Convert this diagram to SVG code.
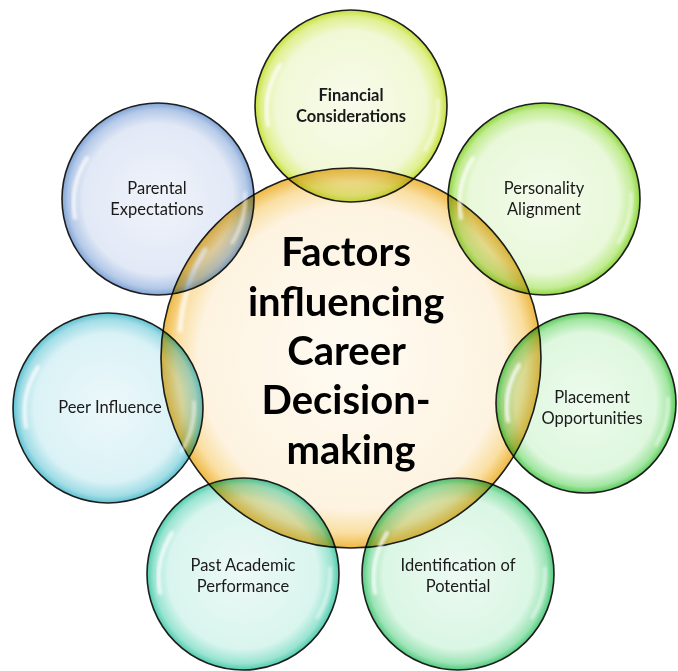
<svg xmlns="http://www.w3.org/2000/svg" width="678" height="671" viewBox="0 0 678 671">
  <defs>
    <style>
      .rim { stroke: #1e1e1e; stroke-width: 1.6; }
      .bubble { mix-blend-mode: multiply; }
      .label { font-family: Lato, "Open Sans", "Liberation Sans", sans-serif; font-size: 16.5px; fill: #1a1a1a; text-anchor: middle; }
      .label-b { font-weight: bold; }
      .title { font-family: Lato, "Open Sans", "Liberation Sans", sans-serif; font-size: 40px; font-weight: bold; fill: #000; text-anchor: middle; }
      .glint { fill: none; stroke: #ffffff; stroke-linecap: round; filter: url(#soft); }
    </style>
    <filter id="soft" x="-20%" y="-20%" width="140%" height="140%">
      <feGaussianBlur stdDeviation="1.6"/>
    </filter>
    <radialGradient id="gCore" cx="50%" cy="50%" r="50%">
      <stop offset="0" stop-color="#fffbf3"/>
      <stop offset="0.8" stop-color="#fdf3e0"/>
      <stop offset="0.92" stop-color="#fadfa2"/>
      <stop offset="1" stop-color="#eeb844"/>
    </radialGradient>
    <radialGradient id="gFin" cx="50%" cy="50%" r="50%">
      <stop offset="0" stop-color="#f8fbec"/>
      <stop offset="0.78" stop-color="#f1f8d6"/>
      <stop offset="0.93" stop-color="#e0f090"/>
      <stop offset="1" stop-color="#c6e03a"/>
    </radialGradient>
    <radialGradient id="gPer" cx="50%" cy="50%" r="50%">
      <stop offset="0" stop-color="#f4fbec"/>
      <stop offset="0.78" stop-color="#e8f8d9"/>
      <stop offset="0.93" stop-color="#c2ec92"/>
      <stop offset="1" stop-color="#8ed63e"/>
    </radialGradient>
    <radialGradient id="gPla" cx="50%" cy="50%" r="50%">
      <stop offset="0" stop-color="#eefbee"/>
      <stop offset="0.78" stop-color="#def7de"/>
      <stop offset="0.93" stop-color="#a2e6a2"/>
      <stop offset="1" stop-color="#5ace5a"/>
    </radialGradient>
    <radialGradient id="gIde" cx="50%" cy="50%" r="50%">
      <stop offset="0" stop-color="#edfaf2"/>
      <stop offset="0.78" stop-color="#daf6e4"/>
      <stop offset="0.93" stop-color="#9ce4b6"/>
      <stop offset="1" stop-color="#50ca7c"/>
    </radialGradient>
    <radialGradient id="gPas" cx="50%" cy="50%" r="50%">
      <stop offset="0" stop-color="#edf9f6"/>
      <stop offset="0.78" stop-color="#d9f5ee"/>
      <stop offset="0.93" stop-color="#9ae4d2"/>
      <stop offset="1" stop-color="#4eccac"/>
    </radialGradient>
    <radialGradient id="gPee" cx="50%" cy="50%" r="50%">
      <stop offset="0" stop-color="#edf8fa"/>
      <stop offset="0.78" stop-color="#daf2f6"/>
      <stop offset="0.93" stop-color="#a2dde6"/>
      <stop offset="1" stop-color="#5cc2d2"/>
    </radialGradient>
    <radialGradient id="gPar" cx="50%" cy="50%" r="50%">
      <stop offset="0" stop-color="#f0f3fa"/>
      <stop offset="0.78" stop-color="#e2e9f6"/>
      <stop offset="0.93" stop-color="#b4c9e8"/>
      <stop offset="1" stop-color="#80a4d6"/>
    </radialGradient>
  </defs>

  <rect width="678" height="671" fill="#ffffff"/>

  <!-- central hub -->
  <g id="core">
    <circle cx="351" cy="358" r="190" fill="url(#gCore)" class="rim"/>
    <path class="glint" stroke-width="5" opacity="0.7" d="M 180 330 A 172 172 0 0 1 205 250"/>
    <text class="title">
      <tspan x="351" y="266">Factors</tspan>
      <tspan x="351" y="316">influencing</tspan>
      <tspan x="351" y="365">Career</tspan>
      <tspan x="351" y="414">Decision-</tspan>
      <tspan x="351" y="464">making</tspan>
    </text>
  </g>

  <!-- surrounding factors -->
  <g id="financial">
    <circle class="bubble rim" cx="351" cy="106" r="96" fill="url(#gFin)"/>
    <path class="glint" stroke-width="4" opacity="0.8" d="M 268 125 A 84 84 0 0 1 280 65"/>
    <path class="glint" stroke-width="3" opacity="0.6" d="M 438 100 A 87 87 0 0 1 425 150"/>
    <text class="label label-b"><tspan x="351" y="101">Financial</tspan><tspan x="351" y="122">Considerations</tspan></text>
  </g>

  <g id="personality">
    <circle class="bubble rim" cx="544" cy="199" r="96" fill="url(#gPer)"/>
    <path class="glint" stroke-width="4" opacity="0.8" d="M 461 218 A 84 84 0 0 1 473 158"/>
    <path class="glint" stroke-width="3" opacity="0.6" d="M 631 193 A 87 87 0 0 1 618 243"/>
    <text class="label"><tspan x="544" y="194">Personality</tspan><tspan x="544" y="215">Alignment</tspan></text>
  </g>

  <g id="placement">
    <circle class="bubble rim" cx="586" cy="403" r="90" fill="url(#gPla)"/>
    <path class="glint" stroke-width="4" opacity="0.8" d="M 508 421 A 79 79 0 0 1 519 365"/>
    <path class="glint" stroke-width="3" opacity="0.6" d="M 668 398 A 82 82 0 0 1 656 445"/>
    <text class="label"><tspan x="592" y="403">Placement</tspan><tspan x="592" y="424">Opportunities</tspan></text>
  </g>

  <g id="identification">
    <circle class="bubble rim" cx="458" cy="574" r="96" fill="url(#gIde)"/>
    <path class="glint" stroke-width="4" opacity="0.8" d="M 375 593 A 84 84 0 0 1 387 533"/>
    <path class="glint" stroke-width="3" opacity="0.6" d="M 545 568 A 87 87 0 0 1 532 618"/>
    <text class="label"><tspan x="458" y="571">Identification of</tspan><tspan x="458" y="592">Potential</tspan></text>
  </g>

  <g id="past-academic">
    <circle class="bubble rim" cx="243" cy="574" r="96" fill="url(#gPas)"/>
    <path class="glint" stroke-width="4" opacity="0.8" d="M 160 593 A 84 84 0 0 1 172 533"/>
    <path class="glint" stroke-width="3" opacity="0.6" d="M 330 568 A 87 87 0 0 1 317 618"/>
    <text class="label"><tspan x="243" y="571">Past Academic</tspan><tspan x="243" y="592">Performance</tspan></text>
  </g>

  <g id="peer">
    <circle class="bubble rim" cx="108" cy="408" r="95" fill="url(#gPee)"/>
    <path class="glint" stroke-width="4" opacity="0.8" d="M 26 427 A 83 83 0 0 1 38 367"/>
    <path class="glint" stroke-width="3" opacity="0.6" d="M 194 402 A 86 86 0 0 1 181 452"/>
    <text class="label"><tspan x="110" y="413">Peer Influence</tspan></text>
  </g>

  <g id="parental">
    <circle class="bubble rim" cx="158" cy="199" r="96" fill="url(#gPar)"/>
    <path class="glint" stroke-width="4" opacity="0.8" d="M 75 218 A 84 84 0 0 1 87 158"/>
    <path class="glint" stroke-width="3" opacity="0.6" d="M 245 193 A 87 87 0 0 1 232 243"/>
    <text class="label"><tspan x="157" y="194">Parental</tspan><tspan x="157" y="215">Expectations</tspan></text>
  </g>
</svg>
